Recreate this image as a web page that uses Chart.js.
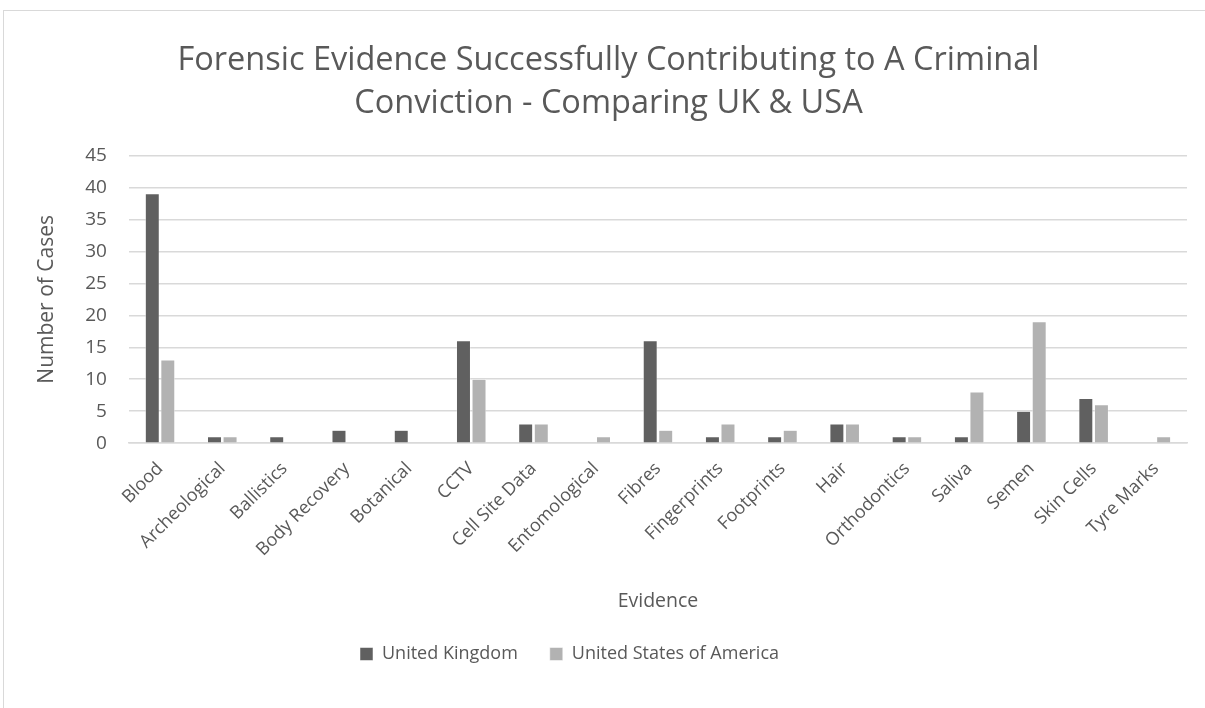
<!DOCTYPE html>
<html>
<head>
<meta charset="utf-8">
<script src="https://cdn.jsdelivr.net/npm/chart.js@4.4.1/dist/chart.umd.min.js"></script>
<style>
  html, body { margin: 0; padding: 0; background: #fff; overflow: hidden; }
  #frame {
    position: absolute; left: 3px; top: 10px;
    width: 1240px; height: 740px;
    border: 1.5px solid #d9d9d9;
  }
  #chart { position: absolute; left: 0; top: 0; }
</style>
</head>
<body>
<div id="frame"></div>
<canvas id="chart" width="1205" height="708"></canvas>
<script>
const categories = [
  "Blood", "Archeological", "Ballistics", "Body Recovery", "Botanical", "CCTV",
  "Cell Site Data", "Entomological", "Fibres", "Fingerprints", "Footprints", "Hair",
  "Orthodontics", "Saliva", "Semen", "Skin Cells", "Tyre Marks"
];
const ukCases  = [39, 1, 1, 2, 2, 16, 3, 0, 16, 1, 1, 3, 1, 1, 5, 7, 0];
const usaCases = [13, 1, 0, 0, 0, 10, 3, 1, 2, 3, 2, 3, 1, 8, 19, 6, 1];
const yTicks = [0, 5, 10, 15, 20, 25, 30, 35, 40, 45];

const C = {
  uk: "#606060",
  usa: "#b2b2b2",
  text: "#595959",
  grid: "#d9d9d9"
};
const FONT = "'Open Sans', sans-serif";

Chart.defaults.font.family = FONT;
Chart.defaults.color = C.text;

// the legend sits a bit left of centre in the original
const legendShift = {
  id: "legendShift",
  afterLayout(chart) {
    chart.legend.left -= 39;
    chart.legend.right -= 39;
  }
};

const ctx = document.getElementById("chart").getContext("2d");
new Chart(ctx, {
  type: "bar",
  data: {
    labels: categories,
    datasets: [
      {
        label: "United Kingdom",
        data: ukCases,
        backgroundColor: C.uk,
        borderColor: "#ffffff",
        borderWidth: 0.5,
        barPercentage: 0.9,
        categoryPercentage: 0.5
      },
      {
        label: "United States of America",
        data: usaCases,
        backgroundColor: C.usa,
        borderColor: "#ffffff",
        borderWidth: 0.5,
        barPercentage: 0.9,
        categoryPercentage: 0.5
      }
    ]
  },
  options: {
    responsive: false,
    animation: false,
    devicePixelRatio: 1,
    layout: { padding: { left: 30, right: 18, top: 40, bottom: 35 } },
    plugins: {
      title: {
        display: true,
        text: ["Forensic Evidence Successfully Contributing to A Criminal", "Conviction - Comparing UK & USA"],
        color: C.text,
        font: { size: 32.5, weight: "normal", lineHeight: 1.3 },
        padding: { top: 0, bottom: 31 }
      },
      legend: {
        position: "bottom",
        labels: {
          color: C.text,
          font: { size: 18 },
          boxWidth: 13,
          boxHeight: 13,
          padding: 32
        }
      },
      tooltip: { enabled: false }
    },
    scales: {
      x: {
        grid: { display: false },
        border: { color: C.grid, width: 1.5 },
        ticks: {
          color: C.text,
          font: { size: 18 },
          minRotation: 45,
          maxRotation: 45,
          autoSkip: false,
          padding: 7
        },
        title: {
          display: true,
          text: "Evidence",
          color: C.text,
          font: { size: 19.5 },
          padding: { top: 22, bottom: 0 }
        }
      },
      y: {
        min: 0,
        max: 45,
        afterBuildTicks(axis) { axis.ticks = yTicks.map(v => ({ value: v })); },
        grid: { color: C.grid, lineWidth: 1.5, drawTicks: false },
        border: { display: false },
        ticks: { color: C.text, font: { size: 19 }, padding: 22 },
        title: {
          display: true,
          text: "Number of Cases",
          color: C.text,
          font: { size: 21 },
          padding: { bottom: 4 }
        }
      }
    }
  },
  plugins: [legendShift]
});
</script>
</body>
</html>
